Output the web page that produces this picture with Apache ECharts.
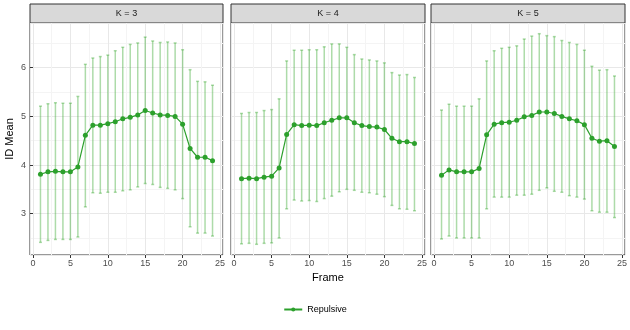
<!DOCTYPE html>
<html>
<head>
<meta charset="utf-8">
<script src="https://cdn.jsdelivr.net/npm/echarts@6/dist/echarts.min.js"></script>
<style>
  html, body { margin: 0; padding: 0; background: #fff; }
  #chart { width: 630px; height: 330px; }
</style>
</head>
<body>
<div id="chart"></div>
<script>
// 数据
var frames = [1, 2, 3, 4, 5, 6, 7, 8, 9, 10, 11, 12, 13, 14, 15, 16, 17, 18, 19, 20, 21, 22, 23, 24];
var panels = ['K = 3', 'K = 4', 'K = 5'];

var mean_k3  = [3.81, 3.86, 3.87, 3.86, 3.86, 3.96, 4.61, 4.82, 4.82, 4.85, 4.89, 4.95, 4.98, 5.03, 5.12, 5.07, 5.03, 5.02, 5.00, 4.84, 4.34, 4.16, 4.16, 4.09];
var upper_k3 = [5.21, 5.26, 5.28, 5.27, 5.27, 5.41, 6.07, 6.20, 6.23, 6.26, 6.35, 6.42, 6.48, 6.51, 6.63, 6.55, 6.52, 6.53, 6.51, 6.37, 5.96, 5.72, 5.71, 5.64];
var lower_k3 = [2.41, 2.45, 2.47, 2.47, 2.47, 2.52, 3.14, 3.43, 3.42, 3.44, 3.44, 3.47, 3.49, 3.55, 3.62, 3.60, 3.54, 3.52, 3.49, 3.31, 2.73, 2.60, 2.60, 2.54];

var mean_k4  = [3.72, 3.73, 3.72, 3.75, 3.77, 3.94, 4.63, 4.83, 4.81, 4.82, 4.81, 4.87, 4.92, 4.97, 4.97, 4.87, 4.81, 4.79, 4.78, 4.73, 4.55, 4.48, 4.48, 4.44];
var upper_k4 = [5.06, 5.08, 5.08, 5.12, 5.14, 5.36, 6.14, 6.36, 6.36, 6.37, 6.37, 6.43, 6.49, 6.49, 6.42, 6.27, 6.18, 6.16, 6.14, 6.10, 5.90, 5.85, 5.86, 5.80];
var lower_k4 = [2.38, 2.39, 2.37, 2.39, 2.40, 2.50, 3.10, 3.28, 3.26, 3.27, 3.25, 3.31, 3.36, 3.45, 3.50, 3.48, 3.44, 3.43, 3.40, 3.35, 3.17, 3.10, 3.09, 3.06];

var mean_k5  = [3.79, 3.90, 3.86, 3.86, 3.86, 3.93, 4.62, 4.84, 4.87, 4.88, 4.92, 4.99, 5.02, 5.09, 5.09, 5.06, 5.00, 4.95, 4.91, 4.83, 4.55, 4.49, 4.50, 4.38];
var upper_k5 = [5.13, 5.25, 5.21, 5.21, 5.21, 5.36, 6.14, 6.35, 6.40, 6.42, 6.45, 6.59, 6.65, 6.70, 6.66, 6.64, 6.56, 6.52, 6.48, 6.36, 6.03, 5.95, 5.96, 5.83];
var lower_k5 = [2.48, 2.54, 2.50, 2.50, 2.50, 2.50, 3.10, 3.34, 3.34, 3.34, 3.38, 3.38, 3.40, 3.48, 3.53, 3.46, 3.44, 3.37, 3.34, 3.30, 3.06, 3.03, 3.03, 2.92];

var means  = [mean_k3, mean_k4, mean_k5];
var uppers = [upper_k3, upper_k4, upper_k5];
var lowers = [lower_k3, lower_k4, lower_k5];

// 样式
var lineColor = '#2ca02c';
var barColor = 'rgba(60,170,50,0.42)';
var font = 'Liberation Sans';
var panelLeft = [30, 231, 431];
var panelWidth = [193, 194, 194];
var panelTop = 23;
var panelHeight = 232;

// 误差线
function errorBar(params, api) {
  var x = api.value(0);
  var top = api.coord([x, api.value(2)]);
  var bottom = api.coord([x, api.value(1)]);
  var half = api.size([0.2, 0])[0];
  var style = { stroke: barColor, lineWidth: 1.5 };
  return {
    type: 'group',
    children: [
      { type: 'line', shape: { x1: top[0], y1: top[1], x2: bottom[0], y2: bottom[1] }, style: style },
      { type: 'line', shape: { x1: top[0] - half, y1: top[1], x2: top[0] + half, y2: top[1] }, style: style },
      { type: 'line', shape: { x1: bottom[0] - half, y1: bottom[1], x2: bottom[0] + half, y2: bottom[1] }, style: style }
    ]
  };
}

var grids = [], xAxes = [], yAxes = [], series = [], graphics = [];

for (var i = 0; i < 3; i++) {
  grids.push({
    left: panelLeft[i], top: panelTop, width: panelWidth[i], height: panelHeight,
    show: true, borderColor: '#333333', borderWidth: 1, backgroundColor: '#fff'
  });

  xAxes.push({
    gridIndex: i,
    type: 'value',
    min: -0.4,
    max: 25.4,
    name: i === 1 ? 'Frame' : '',
    nameLocation: 'middle',
    nameGap: 16,
    nameTextStyle: { fontFamily: font, fontSize: 11, color: '#000' },
    axisLine: { show: false },
    axisTick: { show: true, length: 3, lineStyle: { color: '#333333' } },
    axisLabel: { showMinLabel: false, showMaxLabel: false, fontFamily: font, fontSize: 9, color: '#4d4d4d', margin: 4 },
    splitLine: { lineStyle: { color: '#e8e8e8', width: 1 } },
    minorSplitLine: { show: true, lineStyle: { color: '#f4f4f4', width: 1 } },
    minorTick: { show: false, splitNumber: 2 }
  });

  yAxes.push({
    gridIndex: i,
    type: 'value',
    min: 2.15,
    max: 6.92,
    name: i === 0 ? 'ID Mean' : '',
    nameLocation: 'middle',
    nameGap: 15,
    nameTextStyle: { fontFamily: font, fontSize: 11, color: '#000' },
    axisLine: { show: false },
    axisTick: { show: i === 0, length: 3, lineStyle: { color: '#333333' } },
    axisLabel: { show: i === 0, showMinLabel: false, showMaxLabel: false, fontFamily: font, fontSize: 9, color: '#4d4d4d', margin: 4 },
    splitLine: { lineStyle: { color: '#e8e8e8', width: 1 } },
    minorSplitLine: { show: true, lineStyle: { color: '#f4f4f4', width: 1 } },
    minorTick: { show: false, splitNumber: 2 }
  });

  var barData = [], lineData = [];
  for (var j = 0; j < frames.length; j++) {
    barData.push([frames[j], lowers[i][j], uppers[i][j]]);
    lineData.push([frames[j], means[i][j]]);
  }

  series.push({
    type: 'custom',
    name: 'err' + i,
    xAxisIndex: i,
    yAxisIndex: i,
    renderItem: errorBar,
    encode: { x: 0, y: [1, 2] },
    data: barData,
    z: 1,
    silent: true
  });

  series.push({
    type: 'line',
    name: 'Repulsive',
    xAxisIndex: i,
    yAxisIndex: i,
    data: lineData,
    symbol: 'circle',
    symbolSize: 5,
    itemStyle: { color: lineColor },
    lineStyle: { color: lineColor, width: 1.2 },
    z: 2,
    animation: false
  });

  // 分面标题
  graphics.push({
    type: 'rect',
    shape: { x: panelLeft[i], y: 4, width: panelWidth[i], height: panelTop - 4 },
    style: { fill: '#d9d9d9', stroke: '#333333', lineWidth: 1 }
  });
  graphics.push({
    type: 'text',
    x: panelLeft[i] + panelWidth[i] / 2,
    y: 4 + (panelTop - 4) / 2,
    style: { text: panels[i], fontFamily: font, fontSize: 9, fill: '#1a1a1a', align: 'center', verticalAlign: 'middle' }
  });
}

var myChart = echarts.init(document.getElementById('chart'));
myChart.setOption({
  animation: false,
  backgroundColor: '#fff',
  grid: grids,
  xAxis: xAxes,
  yAxis: yAxes,
  series: series,
  graphic: graphics,
  legend: {
    data: ['Repulsive'],
    bottom: 11,
    left: 'center',
    itemWidth: 18,
    itemHeight: 5,
    itemGap: 6,
    textStyle: { fontFamily: font, fontSize: 9, color: '#000' }
  }
});
</script>
</body>
</html>
